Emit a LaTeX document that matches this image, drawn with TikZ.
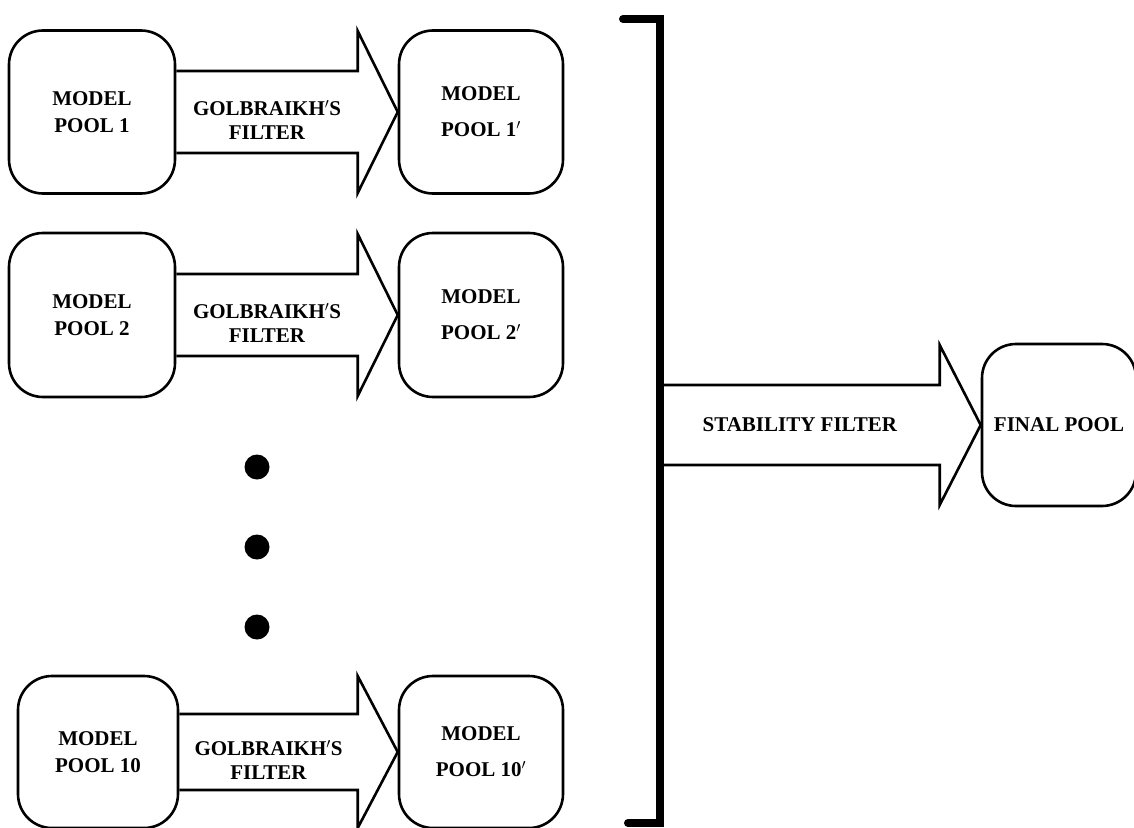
\documentclass[tikz,border=0pt]{standalone}
\usepackage{fontspec}
\setmainfont{Liberation Serif}
\usetikzlibrary{calc}

\begin{document}
\begin{tikzpicture}
[x=1pt,y=-1pt,%
  poolBox/.style={draw,line width=2.6pt,rounded corners=34pt,align=center,inner sep=0pt,%
    font=\bfseries\fontsize{21}{24}\selectfont},%
  blockArrow/.style={draw,line width=2.6pt,line join=miter},%
  arrowText/.style={align=center,font=\bfseries\fontsize{21}{24}\selectfont},%
  bracketLine/.style={line width=8pt,line cap=round},%
  dotNode/.style={circle,fill,minimum size=25pt,inner sep=0pt}]
\useasboundingbox (0,0) rectangle (1134,827);
%% model pools, filtered pools and golbraikh's filter arrows
\foreach \row/\y/\hgt/\lx/\lw/\shaft/\head in {1/112/163/92/166/41/81,
  2/315/164/92/166/41/81, 10/752/152/98/160/38/76}
{
  \node[poolBox,minimum width=\lw,minimum height=\hgt] (pool\row) at (\lx,\y)
    {MODEL\\[3pt]POOL \row};
  \node[poolBox,minimum width=164,minimum height=\hgt] (poolB\row) at (481,\y)
    {MODEL\\[12pt]POOL \row$'$};
  \draw[blockArrow] ([yshift=\shaft]pool\row.east) --
  ([xshift=-40,yshift=\shaft]poolB\row.west) --
  ([xshift=-40,yshift=\head]poolB\row.west) -- (poolB\row.west) --
  ([xshift=-40,yshift=-\head]poolB\row.west) --
  ([xshift=-40,yshift=-\shaft]poolB\row.west) -- ([yshift=-\shaft]pool\row.east);
  \node[arrowText] (filter\row) at
    ($(pool\row.east)!0.5!([xshift=-40]poolB\row.west)+(0,8)$) {GOLBRAIKH$'$S\\FILTER};
}
%% dots for the pools in between
\foreach \d/\y in {1/467, 2/547, 3/627}
{
  \node[dotNode] (dot\d) at (257,\y) {};
}
%% final pool and stability filter
\node[poolBox,minimum width=154,minimum height=162] (finalPool) at (1059,425) {FINAL POOL};
\coordinate (bracketTop) at (660,19);
\coordinate (bracketBottom) at (660,823);
\coordinate (stabStart) at (bracketTop |- finalPool.west);
\draw[blockArrow] ([yshift=40]stabStart) -- ([xshift=-41,yshift=40]finalPool.west) --
([xshift=-41,yshift=80]finalPool.west) -- (finalPool.west) --
([xshift=-41,yshift=-80]finalPool.west) -- ([xshift=-41,yshift=-40]finalPool.west) --
([yshift=-40]stabStart);
\node[arrowText] (stabText) at ($(stabStart)!0.5!([xshift=-41]finalPool.west)$)
  {STABILITY FILTER};
%% the bracket collecting the filtered pools
\draw[bracketLine] ([xshift=-37]bracketTop) -- (bracketTop) -- (bracketBottom) --
([xshift=-32]bracketBottom);
\end{tikzpicture}
\end{document}
